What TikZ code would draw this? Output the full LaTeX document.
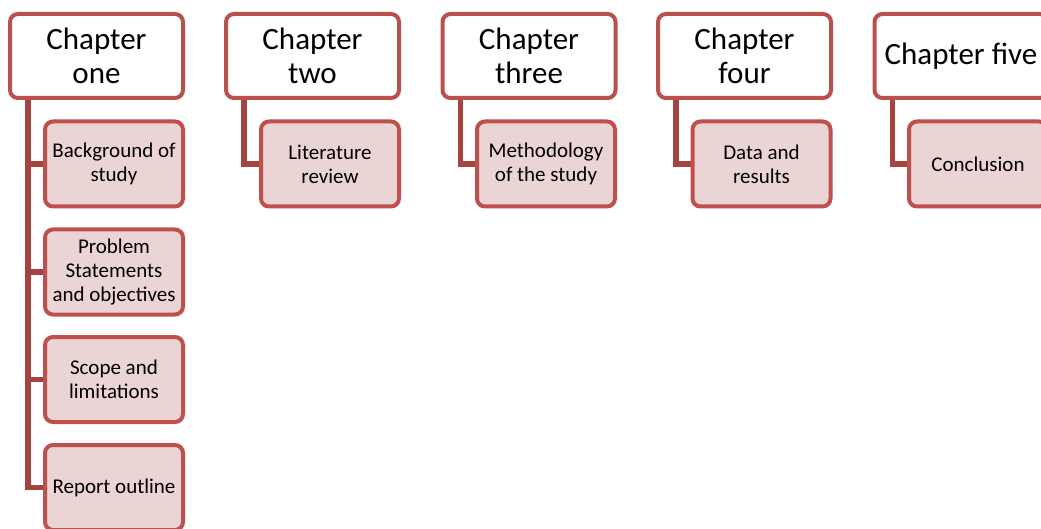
\documentclass[tikz,border=0pt]{standalone}
\usepackage{fontspec}
\setmainfont{Carlito}
\usetikzlibrary{backgrounds}
\definecolor{topborder}{HTML}{B9504D}
\definecolor{childborder}{HTML}{C0504D}
\definecolor{childfill}{HTML}{EAD4D4}
\definecolor{connclr}{HTML}{A7433F}
\tikzset{
  chap/.style={draw=topborder, line width=4pt, fill=white, rounded corners=8pt,
    minimum width=173pt, minimum height=84pt, outer sep=0pt, inner sep=0pt,
    align=center, font=\fontsize{31}{34}\selectfont},
  sub/.style={draw=childborder, line width=4pt, fill=childfill, rounded corners=8pt,
    minimum width=138pt, minimum height=85pt, outer sep=0pt, inner sep=0pt,
    align=center, font=\fontsize{21}{24}\selectfont},
  conn/.style={draw=connclr, line width=5.5pt}
}
\begin{document}
\begin{tikzpicture}[x=1pt,y=-1pt]
\useasboundingbox (0,0) rectangle (1041,529);
\clip (0,0) rectangle (1041,529);
% top boxes
\node[chap] (c1) at (96.5,56) {Chapter\\one};
\node[chap] (c2) at (312.5,56) {Chapter\\two};
\node[chap] (c3) at (529,56) {Chapter\\three};
\node[chap] (c4) at (744.5,56) {Chapter\\four};
\node[chap] (c5) at (961,56) {Chapter five};
% children
\node[sub] (c1a) at (114,164) {Background of\\study};
\node[sub] (c1b) at (114,272) {Problem\\Statements\\and objectives};
\node[sub] (c1c) at (114,379.5) {Scope and\\limitations};
\node[sub] (c1d) at (114,487.5) {Report outline};
\node[sub] (c2a) at (330,164) {Literature\\review};
\node[sub] (c3a) at (546,164) {Methodology\\of the study};
\node[sub] (c4a) at (761.5,164) {Data and\\results};
\node[sub] (c5a) at (978,164) {Conclusion};
% background and connectors
\begin{scope}[on background layer]
\fill[white] (0,0) rectangle (1041,529);
\foreach \p/\c in {c1/c1a,c1/c1b,c1/c1c,c1/c1d,c2/c2a,c3/c3a,c4/c4a,c5/c5a}{
  \draw[conn] ([xshift=18pt]\p.south west) |- (\c.west);
}
\end{scope}
\end{tikzpicture}
\end{document}
